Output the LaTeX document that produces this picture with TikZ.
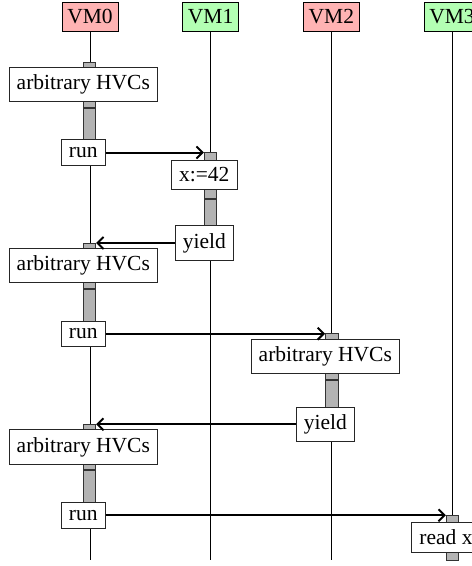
\documentclass[tikz,border=0pt]{standalone}
\usepackage{fontspec}
\setmainfont{Liberation Serif}
\usetikzlibrary{arrows.meta}
\definecolor{vmred}{HTML}{FFB3B3}
\definecolor{vmgreen}{HTML}{B3FFB3}
\definecolor{bargray}{HTML}{B3B3B3}
\begin{document}
\begin{tikzpicture}[x=1pt,y=-1pt,
  font=\fontsize{21.5}{25}\selectfont,
  vmhead/.style={draw=black, line width=1pt, minimum width=56pt, minimum height=29pt, inner sep=0pt, anchor=north},
  lifeline/.style={line width=0.9pt},
  actbar/.style={draw=black!80, fill=bargray, line width=0.8pt, minimum width=12.4pt, inner sep=0pt, anchor=north},
  stepbox/.style={draw=black!85, fill=white, line width=0.9pt, inner xsep=7.5pt, inner ysep=7.5pt},
  msg/.style={line width=2pt, -{Straight Barb[length=6pt,width=12pt]}}]
\useasboundingbox (0,0) rectangle (472,566);
% headers
\node[vmhead, fill=vmred]   (h0) at (90,2)     {VM0};
\node[vmhead, fill=vmgreen] (h1) at (210.67,2) {VM1};
\node[vmhead, fill=vmred]   (h2) at (331.33,2) {VM2};
\node[vmhead, fill=vmgreen] (h3) at (452,2)    {VM3};
% lifeline ends
\coordinate (e0) at (90,560);
\coordinate (e1) at (210.67,560);
\coordinate (e2) at (331.33,560);
\coordinate (e3) at (452,560);
\draw[lifeline] (h0.south) -- (e0);
\draw[lifeline] (h1.south) -- (e1);
\draw[lifeline] (h2.south) -- (e2);
\draw[lifeline] (h3.south) -- (e3);
% activation bars
\node[actbar, minimum height=45pt]   (b0a) at (89.5,61.7) {};
\node[actbar, minimum height=45.8pt] (b0b) at (b0a.south) {};
\node[actbar, minimum height=45.4pt] (b1a) at (210.5,152.3) {};
\node[actbar, minimum height=45.3pt] (b1b) at (b1a.south) {};
\node[actbar, minimum height=45.6pt] (b0c) at (89.5,242.7) {};
\node[actbar, minimum height=45.7pt] (b0d) at (b0c.south) {};
\node[actbar, minimum height=46pt]   (b2a) at (331.7,333.3) {};
\node[actbar, minimum height=44.7pt] (b2b) at (b2a.south) {};
\node[actbar, minimum height=45pt]   (b0e) at (89.5,424.3) {};
\node[actbar, minimum height=46pt]   (b0f) at (b0e.south) {};
\node[actbar, minimum height=45pt]   (b3a) at (452.5,515) {};
% step boxes
\node[stepbox] (s1) at (83.3,84.5)   {arbitrary HVCs};
\node[stepbox] (r1) at (83.3,152.5)  {run};
\node[stepbox] (s2) at (204.3,175)   {x:=42};
\node[stepbox] (y1) at (204.3,243)   {yield};
\node[stepbox] (s3) at (83.3,265.5)  {arbitrary HVCs};
\node[stepbox] (r2) at (83.3,333.7)  {run};
\node[stepbox] (s4) at (325.3,356.3) {arbitrary HVCs};
\node[stepbox] (y2) at (325.3,424.3) {yield};
\node[stepbox] (s5) at (83.3,447)    {arbitrary HVCs};
\node[stepbox] (r3) at (83.3,515.3)  {run};
\node[stepbox] (s6) at (446,537.5)   {read x};
% messages
\draw[msg] (r1.east) -- (r1.east -| b1a.west);
\draw[msg] (y1.west) -- (y1.west -| b0c.east);
\draw[msg] (r2.east) -- (r2.east -| b2a.west);
\draw[msg] (y2.west) -- (y2.west -| b0e.east);
\draw[msg] (r3.east) -- (r3.east -| b3a.west);
\end{tikzpicture}
\end{document}
